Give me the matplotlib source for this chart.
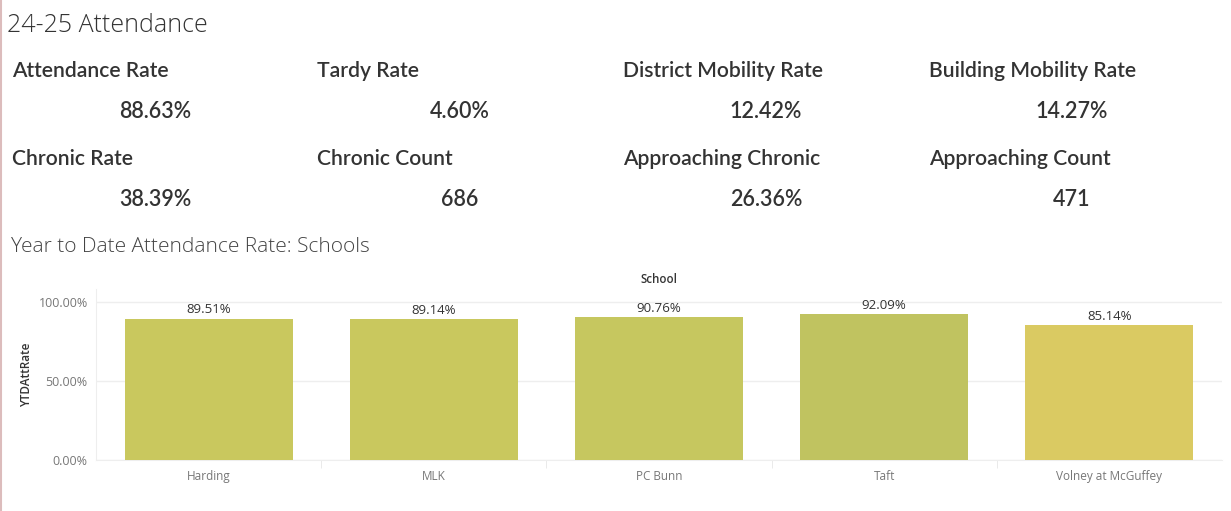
import matplotlib
matplotlib.use("Agg")
import matplotlib.pyplot as plt
import matplotlib.ticker as ticker
from matplotlib.lines import Line2D
from matplotlib import rcParams

rcParams["font.family"] = ["Open Sans", "DejaVu Sans"]

W, H = 1231, 511

kpi_labels = ["Attendance Rate", "Tardy Rate", "District Mobility Rate", "Building Mobility Rate",
              "Chronic Rate", "Chronic Count", "Approaching Chronic", "Approaching Count"]
kpi_values = ["88.63%", "4.60%", "12.42%", "14.27%",
              "38.39%", "686", "26.36%", "471"]

schools = ["Harding", "MLK", "PC Bunn", "Taft", "Volney at McGuffey"]
rates = [89.51, 89.14, 90.76, 92.09, 85.14]
bar_colors = ["#C9C85E", "#C9C85E", "#C6C75F", "#C0C360", "#DACA62"]


def fx(px):
    return px / W


def fy(py):
    return 1 - py / H


fig = plt.figure(figsize=(W / 100, H / 100), dpi=100)
fig.patch.set_facecolor("white")

# faint left border
fig.add_artist(Line2D([fx(1), fx(1)], [0, 1], color="#dcbcbc", linewidth=1.5))

fig.text(fx(7), fy(25), "24-25 Attendance", fontsize=18, color="#333333",
         ha="left", va="center", fontweight="light")

col_x = [12, 317, 623, 929]
row_y = [(71, 111), (159, 200)]
kpi_font = ["Lato", "Open Sans", "DejaVu Sans"]
for i, (lab, val) in enumerate(zip(kpi_labels, kpi_values)):
    r, c = divmod(i, 4)
    fig.text(fx(col_x[c]), fy(row_y[r][0]), lab, fontsize=15.2, color="#333333",
             ha="left", va="center", fontweight="semibold", family=kpi_font)
    fig.text(fx(col_x[c] + 143), fy(row_y[r][1]), val, fontsize=15.5, color="#333333",
             ha="center", va="center", fontweight="semibold", family=kpi_font)

fig.text(fx(11), fy(247), "Year to Date Attendance Rate: Schools", fontsize=15,
         color="#444444", ha="left", va="center", fontweight="light")
fig.text(fx(659), fy(279), "School", fontsize=8.3, color="#333333",
         ha="center", va="center", fontweight="semibold")

# plot area in pixels
left, right, top, bottom = 96, 1222, 289, 460
ax = fig.add_axes([fx(left), fy(bottom), (right - left) / W, (bottom - top) / H])

x = list(range(len(schools)))
ax.bar(x, rates, width=0.746, color=bar_colors, zorder=3)
for xi, v in zip(x, rates):
    ax.text(xi, v + 1.3, f"{v:.2f}%", ha="center", va="bottom",
            fontsize=9.5, color="#333333", zorder=4)

ax.set_xlim(-0.5, len(schools) - 0.5)
ax.set_ylim(0, 108.2)
ax.yaxis.set_major_locator(ticker.FixedLocator([0, 50, 100]))
ax.yaxis.set_major_formatter(ticker.FuncFormatter(lambda v, p: f"{v:.2f}%"))
ax.grid(axis="y", color="#eeeeee", linewidth=1, zorder=0)

ax.set_xticks(x)
ax.set_xticklabels(schools)
ax.set_xticks([i + 0.5 for i in x[:-1]], minor=True)
ax.tick_params(axis="x", which="major", length=0, pad=7, labelsize=8.5, labelcolor="#777777")
ax.tick_params(axis="x", which="minor", length=6, color="#e6e6e6", direction="out")
ax.tick_params(axis="y", length=0, pad=6, labelsize=9, labelcolor="#777777")

for s in ["top", "right"]:
    ax.spines[s].set_visible(False)
ax.spines["left"].set_color("#eeeeee")
ax.spines["bottom"].set_color("#eeeeee")

ax.set_ylabel("YTDAttRate", fontsize=8.5, color="#333333", fontweight="semibold", labelpad=4)

fig.savefig("out.png", dpi=100, facecolor="white")
